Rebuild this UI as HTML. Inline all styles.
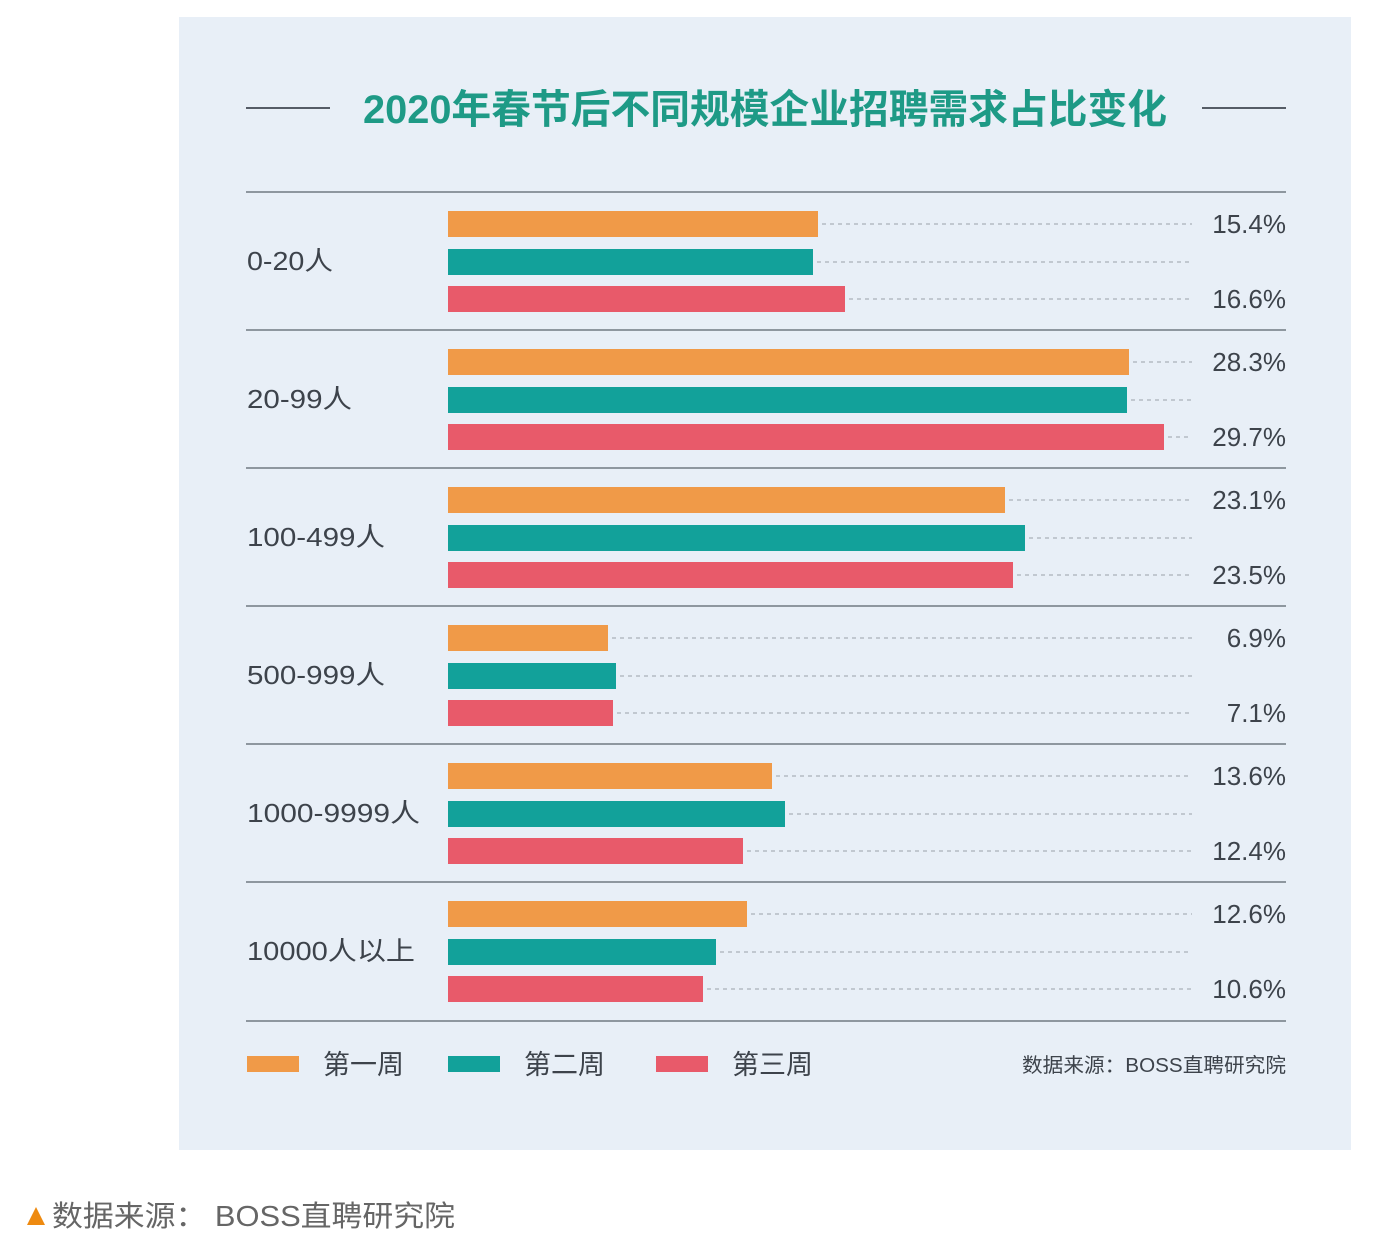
<!DOCTYPE html>
<html><head><meta charset="utf-8"><style>
html,body{margin:0;padding:0;background:#fff;}
svg{display:block;}
text{font-family:"Liberation Sans","Noto Sans CJK SC",sans-serif;}
</style></head><body>
<svg width="1387" height="1235" viewBox="0 0 1387 1235" xmlns="http://www.w3.org/2000/svg">
<rect x="0" y="0" width="1387" height="1235" fill="#fff"/>
<rect x="179" y="17" width="1172" height="1133" fill="#e8eff7"/>
<line x1="246" y1="108" x2="330" y2="108" stroke="#555c66" stroke-width="2"/>
<line x1="1202" y1="108" x2="1286" y2="108" stroke="#555c66" stroke-width="2"/>
<text x="765" y="123" text-anchor="middle" font-size="40" font-weight="bold" fill="#1e9a86" textLength="804" lengthAdjust="spacingAndGlyphs">2020年春节后不同规模企业招聘需求占比变化</text>
<g stroke="#8e979f" stroke-width="2">
<line x1="246" y1="192" x2="1286" y2="192"/>
<line x1="246" y1="330" x2="1286" y2="330"/>
<line x1="246" y1="468" x2="1286" y2="468"/>
<line x1="246" y1="606" x2="1286" y2="606"/>
<line x1="246" y1="744" x2="1286" y2="744"/>
<line x1="246" y1="882" x2="1286" y2="882"/>
<line x1="246" y1="1021" x2="1286" y2="1021"/>
</g>
<g font-size="26" fill="#3d434b">
<text x="247" y="270" textLength="86" lengthAdjust="spacingAndGlyphs">0-20人</text>
<text x="247" y="408" textLength="105" lengthAdjust="spacingAndGlyphs">20-99人</text>
<text x="247" y="546" textLength="138" lengthAdjust="spacingAndGlyphs">100-499人</text>
<text x="247" y="684" textLength="138" lengthAdjust="spacingAndGlyphs">500-999人</text>
<text x="247" y="822" textLength="173" lengthAdjust="spacingAndGlyphs">1000-9999人</text>
<text x="247" y="960" textLength="168" lengthAdjust="spacingAndGlyphs">10000人以上</text>
</g>
<g stroke-dasharray="4,4" stroke="#b4bcc4" stroke-width="1.5">
<line x1="822" y1="224" x2="1192" y2="224"/><line x1="817" y1="262" x2="1192" y2="262"/><line x1="849" y1="299" x2="1192" y2="299"/>
<line x1="1133" y1="362" x2="1192" y2="362"/><line x1="1131" y1="400" x2="1192" y2="400"/><line x1="1168" y1="437" x2="1192" y2="437"/>
<line x1="1009" y1="500" x2="1192" y2="500"/><line x1="1029" y1="538" x2="1192" y2="538"/><line x1="1017" y1="575" x2="1192" y2="575"/>
<line x1="612" y1="638" x2="1192" y2="638"/><line x1="620" y1="676" x2="1192" y2="676"/><line x1="617" y1="713" x2="1192" y2="713"/>
<line x1="776" y1="776" x2="1192" y2="776"/><line x1="789" y1="814" x2="1192" y2="814"/><line x1="747" y1="851" x2="1192" y2="851"/>
<line x1="751" y1="914" x2="1192" y2="914"/><line x1="720" y1="952" x2="1192" y2="952"/><line x1="707" y1="989" x2="1192" y2="989"/>
</g>
<g>
<rect x="448" y="211" width="370" height="26" fill="#f09a48"/><rect x="448" y="249" width="365" height="26" fill="#12a19a"/><rect x="448" y="286" width="397" height="26" fill="#e85a6a"/>
<rect x="448" y="349" width="681" height="26" fill="#f09a48"/><rect x="448" y="387" width="679" height="26" fill="#12a19a"/><rect x="448" y="424" width="716" height="26" fill="#e85a6a"/>
<rect x="448" y="487" width="557" height="26" fill="#f09a48"/><rect x="448" y="525" width="577" height="26" fill="#12a19a"/><rect x="448" y="562" width="565" height="26" fill="#e85a6a"/>
<rect x="448" y="625" width="160" height="26" fill="#f09a48"/><rect x="448" y="663" width="168" height="26" fill="#12a19a"/><rect x="448" y="700" width="165" height="26" fill="#e85a6a"/>
<rect x="448" y="763" width="324" height="26" fill="#f09a48"/><rect x="448" y="801" width="337" height="26" fill="#12a19a"/><rect x="448" y="838" width="295" height="26" fill="#e85a6a"/>
<rect x="448" y="901" width="299" height="26" fill="#f09a48"/><rect x="448" y="939" width="268" height="26" fill="#12a19a"/><rect x="448" y="976" width="255" height="26" fill="#e85a6a"/>
</g>
<g font-size="26" fill="#3d434b" text-anchor="end">
<text x="1286" y="233">15.4%</text><text x="1286" y="308">16.6%</text>
<text x="1286" y="371">28.3%</text><text x="1286" y="446">29.7%</text>
<text x="1286" y="509">23.1%</text><text x="1286" y="584">23.5%</text>
<text x="1286" y="647">6.9%</text><text x="1286" y="722">7.1%</text>
<text x="1286" y="785">13.6%</text><text x="1286" y="860">12.4%</text>
<text x="1286" y="923">12.6%</text><text x="1286" y="998">10.6%</text>
</g>
<rect x="247" y="1056" width="52" height="16" fill="#f09a48"/>
<rect x="448" y="1056" width="52" height="16" fill="#12a19a"/>
<rect x="656" y="1056" width="52" height="16" fill="#e85a6a"/>
<g font-size="27" fill="#3d434b">
<text x="323" y="1074">第一周</text>
<text x="524" y="1074">第二周</text>
<text x="732" y="1074">第三周</text>
</g>
<text x="1286" y="1072" text-anchor="end" font-size="20" fill="#3d434b" textLength="264" lengthAdjust="spacingAndGlyphs">数据来源：BOSS直聘研究院</text>
<polygon points="27,1225 36,1207 45,1225" fill="#ee8a10"/>
<text x="52" y="1226" font-size="29" fill="#666" textLength="403" lengthAdjust="spacingAndGlyphs">数据来源： BOSS直聘研究院</text>
</svg>
</body></html>
